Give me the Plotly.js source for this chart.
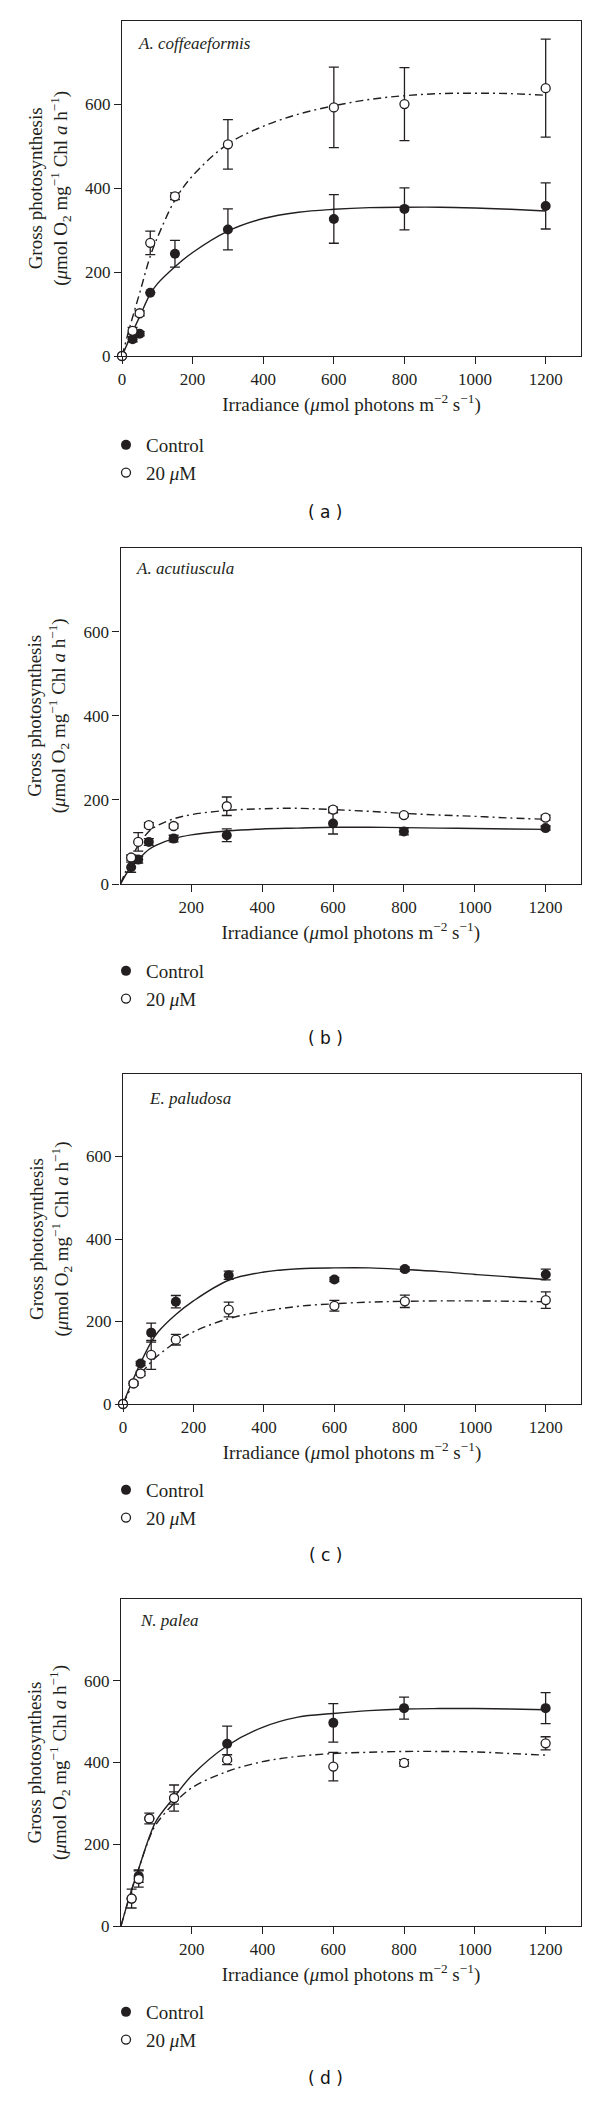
<!DOCTYPE html>
<html>
<head>
<meta charset="utf-8">
<script src="https://cdn.plot.ly/plotly-3.0.1.min.js"></script>
<style>html,body{margin:0;padding:0;background:#fff;}#chart{width:600px;height:2107px;}</style>
</head>
<body>
<div id="chart"></div>
<script>
// ---------- Data ----------
const speciesNames = ["A. coffeaeformis", "A. acutiuscula", "E. paludosa", "N. palea"];
const panelTags = ["( a )", "( b )", "( c )", "( d )"];
const seriesNames = ["Control", "20 <i>μ</i>M"];

// Panel (a) A. coffeaeformis
const irrA = [0, 30, 50, 80, 150, 300, 600, 800, 1200];
const ctrlA = [0, 40, 53, 151, 244, 302, 327, 351, 358];
const ctrlErrA = [0, 6, 5, 0, 32, 49, 58, 50, 55];
const treatA = [0, 60, 102, 270, 381, 505, 593, 601, 639];
const treatErrA = [0, 8, 6, 28, 8, 59, 96, 87, 117];

// Panel (b) A. acutiuscula
const irrB = [30, 50, 80, 150, 300, 600, 800, 1200];
const ctrlB = [40, 58, 100, 108, 116, 144, 125, 133];
const ctrlErrB = [12, 8, 8, 8, 15, 25, 8, 5];
const treatB = [63, 100, 140, 138, 185, 177, 164, 158];
const treatErrB = [6, 22, 6, 5, 22, 6, 4, 6];

// Panel (c) E. paludosa
const irrC = [0, 30, 50, 80, 150, 300, 600, 800, 1200];
const ctrlC = [0, 50, 98, 173, 248, 312, 302, 327, 314];
const ctrlErrC = [0, 0, 5, 23, 15, 10, 5, 5, 13];
const treatC = [0, 50, 74, 119, 156, 229, 238, 249, 252];
const treatErrC = [0, 5, 5, 35, 13, 18, 13, 15, 20];

// Panel (d) N. palea
const irrD = [30, 50, 80, 150, 300, 600, 800, 1200];
const ctrlD = [67, 122, 263, 313, 446, 497, 533, 533];
const ctrlErrD = [0, 15, 0, 32, 43, 47, 27, 38];
const treatD = [67, 115, 263, 313, 407, 390, 399, 447];
const treatErrD = [23, 20, 13, 15, 12, 35, 8, 16];

// Fitted curves
const fitIrr = [0, 25, 50, 80, 100, 150, 200, 300, 400, 500, 600, 700, 800, 900, 1000, 1100, 1200];
const fitCtrlA = [0, 48, 94, 148, 172, 213, 247, 298, 328, 343, 350, 354, 355, 355, 353, 350, 346];
const fitTreatA = [0, 78, 150, 238, 282, 372, 430, 506, 548, 577, 597, 612, 621, 626, 627, 626, 622];
const fitCtrlB = [0, 35, 58, 82, 92, 108, 117, 126, 131, 133, 135, 135, 134, 133, 132, 131, 130];
const fitTreatB = [0, 50, 92, 125, 137, 155, 165, 175, 179, 180, 177, 173, 168, 164, 161, 157, 154];
const fitCtrlC = [0, 52, 100, 150, 175, 217, 250, 300, 320, 328, 330, 330, 326, 321, 314, 308, 302];
const fitTreatC = [0, 42, 72, 102, 118, 150, 175, 207, 225, 237, 243, 247, 249, 250, 250, 249, 248];
const fitCtrlD = [0, 75, 140, 218, 258, 315, 368, 441, 486, 511, 520, 527, 531, 532, 532, 531, 529];
const fitTreatD = [0, 75, 140, 215, 250, 300, 338, 378, 402, 415, 422, 425, 427, 427, 426, 422, 418];

const xTicksWithZero = [0, 200, 400, 600, 800, 1000, 1200];
const xTicksNoZero = [200, 400, 600, 800, 1000, 1200];
const yTicks = [0, 200, 400, 600];

// ---------- Layout helpers ----------
const W = 600, H = 2107;
const px2x = p => p / W;
const px2y = p => 1 - p / H;
const SERIF = "Liberation Serif, Times New Roman, serif";
const INK = "#231f20";

const panels = [
  {irr: irrA, c: ctrlA, ce: ctrlErrA, t: treatA, te: treatErrA, fc: fitCtrlA, ft: fitTreatA,
   box: [122, 581, 20.7, 356], xt: xTicksWithZero, sp: [136, 43], tag: 512, leg: 443},
  {irr: irrB, c: ctrlB, ce: ctrlErrB, t: treatB, te: treatErrB, fc: fitCtrlB, ft: fitTreatB,
   box: [120.5, 581, 547.7, 884], xt: xTicksNoZero, sp: [134, 568], tag: 1038, leg: 969},
  {irr: irrC, c: ctrlC, ce: ctrlErrC, t: treatC, te: treatErrC, fc: fitCtrlC, ft: fitTreatC,
   box: [123, 581, 1074, 1404], xt: xTicksWithZero, sp: [147, 1098], tag: 1555, leg: 1488},
  {irr: irrD, c: ctrlD, ce: ctrlErrD, t: treatD, te: treatErrD, fc: fitCtrlD, ft: fitTreatD,
   box: [121, 581, 1599, 1926], xt: xTicksNoZero, sp: [138, 1620], tag: 2078, leg: 2010}
];

const traces = [];
const layout = {
  width: W, height: H,
  margin: {l: 0, r: 0, t: 0, b: 0},
  paper_bgcolor: "#fff", plot_bgcolor: "#fff",
  font: {family: SERIF, color: INK, size: 17},
  hovermode: false,
  annotations: []
};

panels.forEach((p, i) => {
  const n = i === 0 ? "" : String(i + 1);
  const xa = "x" + n, ya = "y" + n;
  const legName = "legend" + n;

  // fitted curves
  traces.push({x: fitIrr, y: p.fc, xaxis: xa, yaxis: ya, mode: "lines", showlegend: false,
    line: {color: INK, width: 1.4, shape: "spline", smoothing: 1}, hoverinfo: "skip"});
  traces.push({x: fitIrr, y: p.ft, xaxis: xa, yaxis: ya, mode: "lines", showlegend: false,
    line: {color: INK, width: 1.4, shape: "spline", smoothing: 1, dash: "8px,4px,2px,4px"}, hoverinfo: "skip"});

  // data: control (filled)
  traces.push({x: p.irr, y: p.c, xaxis: xa, yaxis: ya, mode: "markers", name: seriesNames[0],
    legend: legName, cliponaxis: false,
    marker: {size: 10, color: INK, line: {width: 0}},
    error_y: {type: "data", array: p.ce, visible: true, color: INK, thickness: 1.3, width: 5}});
  // data: 20 µM (open)
  traces.push({x: p.irr, y: p.t, xaxis: xa, yaxis: ya, mode: "markers", name: seriesNames[1],
    legend: legName, cliponaxis: false,
    marker: {size: 9, color: "#fff", line: {width: 1.3, color: INK}},
    error_y: {type: "data", array: p.te, visible: true, color: INK, thickness: 1.3, width: 5}});

  const [l, r, t, b] = p.box;
  layout["xaxis" + n] = {
    domain: [px2x(l), px2x(r)], anchor: ya, range: [0, 1300],
    tickmode: "array", tickvals: p.xt, ticks: "outside", ticklen: 7, tickwidth: 1.2, tickcolor: INK,
    showline: true, linecolor: INK, linewidth: 1.3, mirror: true, showgrid: false, zeroline: false,
    tickfont: {family: SERIF, size: 17, color: INK},
    title: {text: "Irradiance (<i>μ</i>mol photons m<sup>−2</sup> s<sup>−1</sup>)",
            font: {family: SERIF, size: 19, color: INK}, standoff: 10},
    fixedrange: true
  };
  layout["yaxis" + n] = {
    domain: [px2y(b), px2y(t)], anchor: xa, range: [0, 800],
    tickmode: "array", tickvals: yTicks, ticks: "outside", ticklen: 7, tickwidth: 1.2, tickcolor: INK,
    showline: true, linecolor: INK, linewidth: 1.3, mirror: true, showgrid: false, zeroline: false,
    tickfont: {family: SERIF, size: 17, color: INK},
    title: {text: "Gross photosynthesis<br>(<i>μ</i>mol O<sub>2</sub> mg<sup>−1</sup> Chl <i>a</i> h<sup>−1</sup>)",
            font: {family: SERIF, size: 19, color: INK}, standoff: 12},
    fixedrange: true
  };
  layout[legName] = {
    x: px2x(106), y: px2y(p.leg - 17), xanchor: "left", yanchor: "top",
    bgcolor: "rgba(0,0,0,0)", borderwidth: 0, tracegroupgap: 0,
    font: {family: SERIF, size: 19, color: INK}
  };
  layout.annotations.push({
    xref: "paper", yref: "paper", x: px2x(p.sp[0]), y: px2y(p.sp[1]),
    xanchor: "left", yanchor: "middle", showarrow: false,
    text: "<i>" + speciesNames[i] + "</i>", font: {family: SERIF, size: 17, color: INK}
  });
  layout.annotations.push({
    xref: "paper", yref: "paper", x: px2x(325), y: px2y(p.tag),
    xanchor: "center", yanchor: "middle", showarrow: false,
    text: panelTags[i], font: {family: "DejaVu Sans, sans-serif", size: 17, color: "#111"}
  });
});

Plotly.newPlot("chart", traces, layout, {displayModeBar: false, responsive: false});
</script>
</body>
</html>
